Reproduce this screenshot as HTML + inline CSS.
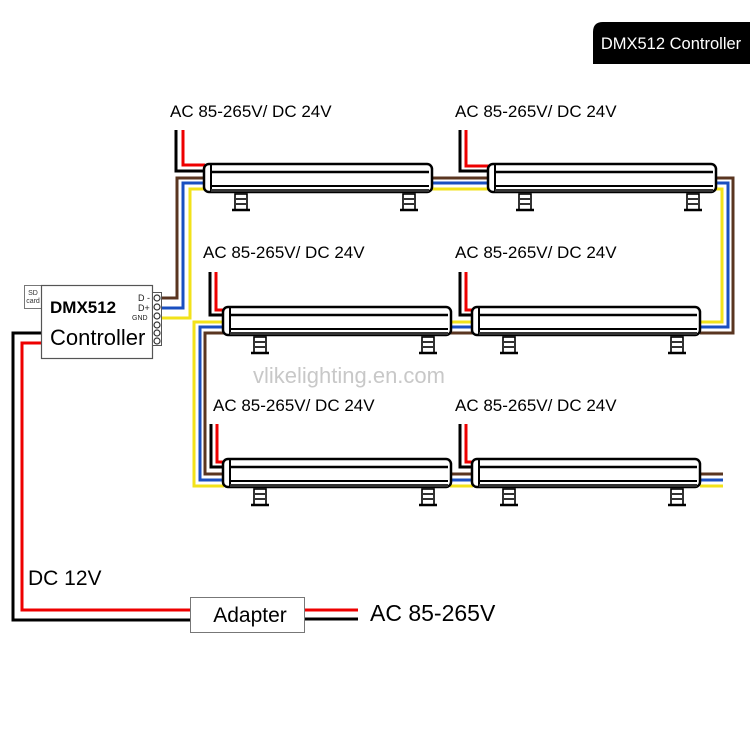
<!DOCTYPE html>
<html><head><meta charset="utf-8"><style>
html,body{margin:0;padding:0;background:#fff;}
svg{display:block;font-family:"Liberation Sans",Arial,sans-serif;}
</style></head><body>
<svg width="750" height="750" viewBox="0 0 750 750" xmlns="http://www.w3.org/2000/svg">
<defs>
<g id="fx">
  <rect x="1" y="1" width="228" height="28" rx="5" fill="#fff" stroke="#000" stroke-width="2.5"/>
  <line x1="8" y1="2" x2="8" y2="28" stroke="#000" stroke-width="2"/>
  <line x1="8" y1="9" x2="226" y2="9" stroke="#000" stroke-width="2.5"/>
  <line x1="8" y1="23" x2="226" y2="23" stroke="#000" stroke-width="2"/>
  <rect x="8" y="26" width="218" height="3" fill="#333"/>
  <g id="ft" stroke="#000" stroke-width="1.6" fill="#fff">
    <rect x="32" y="31" width="12" height="16"/>
    <line x1="33" y1="36" x2="43" y2="36"/>
    <line x1="33" y1="41" x2="43" y2="41"/>
    <line x1="29" y1="47" x2="47" y2="47" stroke-width="2.5"/>
  </g>
  <use href="#ft" x="168"/>
</g>
</defs>

<path d="M603 22 H750 V64 H593 V32 Q593 22 603 22Z" fill="#000"/>
<text x="671" y="49" font-size="16.5" fill="#fff" text-anchor="middle">DMX512 Controller</text>

<g fill="none" stroke-width="3">
  <polyline points="162,298 177,298 177,178 205,178" stroke="#5a3520"/>
  <polyline points="162,308 183,308 183,183 205,183" stroke="#1a4fc0"/>
  <polyline points="162,318 190,318 190,189 205,189" stroke="#f2e21a"/>
  <line x1="432" y1="178" x2="489" y2="178" stroke="#5a3520"/>
  <line x1="432" y1="183" x2="489" y2="183" stroke="#1a4fc0"/>
  <line x1="432" y1="189" x2="489" y2="189" stroke="#f2e21a"/>
  <polyline points="715,178 733,178 733,333 700,333" stroke="#5a3520"/>
  <polyline points="715,183 728,183 728,327 700,327" stroke="#1a4fc0"/>
  <polyline points="715,189 722,189 722,322 700,322" stroke="#f2e21a"/>
  <line x1="450" y1="333" x2="473" y2="333" stroke="#5a3520"/>
  <line x1="450" y1="327" x2="473" y2="327" stroke="#1a4fc0"/>
  <line x1="450" y1="322" x2="473" y2="322" stroke="#f2e21a"/>
  <polyline points="224,333 205,333 205,474 224,474" stroke="#5a3520"/>
  <polyline points="224,327 200,327 200,480 224,480" stroke="#1a4fc0"/>
  <polyline points="224,322 194,322 194,486 224,486" stroke="#f2e21a"/>
  <line x1="450" y1="474" x2="473" y2="474" stroke="#5a3520"/>
  <line x1="450" y1="480" x2="473" y2="480" stroke="#1a4fc0"/>
  <line x1="450" y1="486" x2="473" y2="486" stroke="#f2e21a"/>
  <line x1="700" y1="474" x2="723" y2="474" stroke="#5a3520"/>
  <line x1="700" y1="480" x2="723" y2="480" stroke="#1a4fc0"/>
  <line x1="700" y1="486" x2="723" y2="486" stroke="#f2e21a"/>
</g>

<g fill="none" stroke-width="3">
  <polyline points="176,130 176,171 205,171" stroke="#000"/>
  <polyline points="183,130 183,165 205,165" stroke="#e00"/>
  <polyline points="460,130 460,171 489,171" stroke="#000"/>
  <polyline points="466,130 466,166 489,166" stroke="#e00"/>
  <polyline points="210,272 210,315 224,315" stroke="#000"/>
  <polyline points="216,272 216,310 224,310" stroke="#e00"/>
  <polyline points="460,272 460,315 473,315" stroke="#000"/>
  <polyline points="466,272 466,310 473,310" stroke="#e00"/>
  <polyline points="211,424 211,467 224,467" stroke="#000"/>
  <polyline points="217,424 217,462 224,462" stroke="#e00"/>
  <polyline points="460,424 460,467 473,467" stroke="#000"/>
  <polyline points="466,424 466,462 473,462" stroke="#e00"/>
</g>

<use href="#fx" x="203" y="163"/>
<use href="#fx" x="487" y="163"/>
<use href="#fx" x="222" y="306"/>
<use href="#fx" x="471" y="306"/>
<use href="#fx" x="222" y="458"/>
<use href="#fx" x="471" y="458"/>

<g font-size="17" fill="#000">
  <text x="170" y="117">AC 85-265V/ DC 24V</text>
  <text x="455" y="117">AC 85-265V/ DC 24V</text>
  <text x="203" y="258">AC 85-265V/ DC 24V</text>
  <text x="455" y="258">AC 85-265V/ DC 24V</text>
  <text x="213" y="411">AC 85-265V/ DC 24V</text>
  <text x="455" y="411">AC 85-265V/ DC 24V</text>
</g>
<text x="253" y="383" font-size="22" fill="#c8c8c8">vlikelighting.en.com</text>

<g fill="none" stroke-width="3">
  <polyline points="42,333 13,333 13,620 192,620" stroke="#000"/>
  <polyline points="42,343 22,343 22,610 192,610" stroke="#e00"/>
  <line x1="305" y1="610" x2="358" y2="610" stroke="#e00"/>
  <line x1="305" y1="619" x2="358" y2="619" stroke="#000"/>
</g>

<rect x="24.5" y="285.5" width="17" height="23" fill="#fff" stroke="#777"/>
<text x="33" y="295" font-size="7" text-anchor="middle" fill="#333">SD</text>
<text x="33" y="303" font-size="7" text-anchor="middle" fill="#333">card</text>
<rect x="41.5" y="285.5" width="111" height="73" fill="#fff" stroke="#555" stroke-width="1.2"/>
<rect x="152.5" y="292.5" width="9" height="53" fill="#fff" stroke="#555"/>
<g fill="#fff" stroke="#333" stroke-width="1.2">
  <circle cx="157" cy="298" r="3"/><circle cx="157" cy="307" r="3"/><circle cx="157" cy="316" r="3"/>
  <circle cx="157" cy="325" r="3"/><circle cx="157" cy="333" r="3"/><circle cx="157" cy="341" r="3"/>
</g>
<text x="138" y="301" font-size="9" fill="#222">D -</text>
<text x="138" y="311" font-size="9" fill="#222">D+</text>
<text x="132" y="320" font-size="7" fill="#222">GND</text>
<text x="50" y="313" font-size="17" font-weight="bold">DMX512</text>
<text x="50" y="345" font-size="22">Controller</text>

<rect x="190.5" y="597.5" width="114" height="35" fill="#fff" stroke="#777"/>
<text x="250" y="622" font-size="21" text-anchor="middle">Adapter</text>
<text x="370" y="621" font-size="23">AC 85-265V</text>
<text x="28" y="585" font-size="21">DC 12V</text>
</svg>
</body></html>
